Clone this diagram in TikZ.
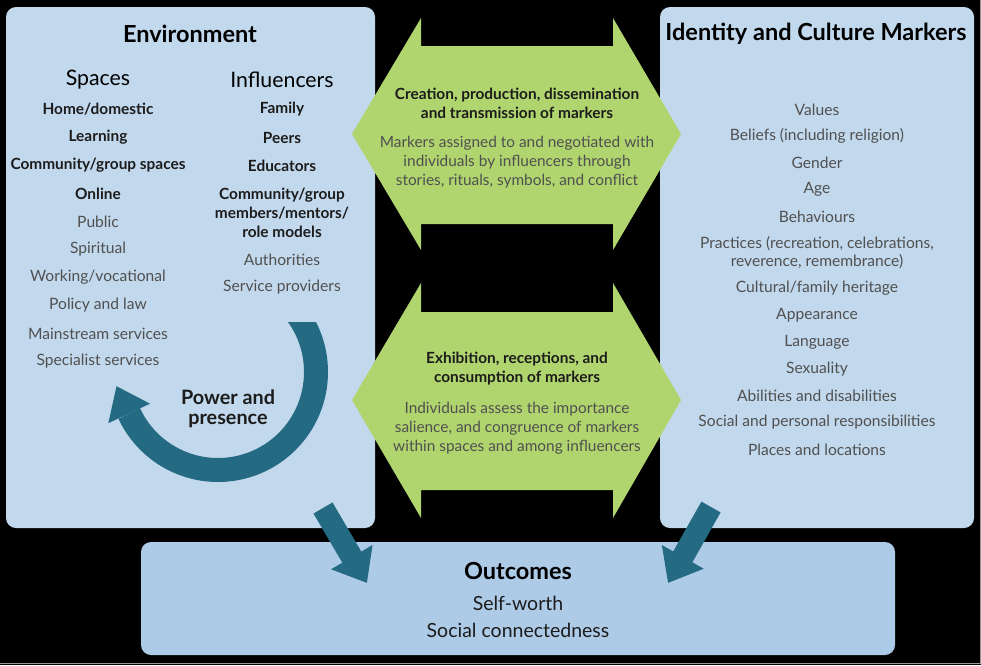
\documentclass[tikz,border=0pt]{standalone}
\usepackage{fontspec}
\setmainfont{Lato}
\usetikzlibrary{arrows.meta,calc}
\definecolor{bgblue}{HTML}{C2D8EC}
\definecolor{outblue}{HTML}{ADCAE6}
\definecolor{grn}{HTML}{B0D46E}
\definecolor{tealarr}{HTML}{236A82}
\definecolor{txtdark}{HTML}{1C1C1C}
\definecolor{txtgray}{HTML}{505050}
\tikzset{
  box/.style={rounded corners=10pt, fill=bgblue, draw=none, inner sep=0pt},
  bitem/.style={font=\fontsize{15.4}{19}\selectfont\bfseries, text=txtdark, inner sep=0pt, align=center},
  ritem/.style={font=\fontsize{15.6}{18}\selectfont, text=txtgray, inner sep=0pt, align=center},
  ttl/.style={font=\fontsize{23.5}{26}\selectfont\bfseries, text=black, inner sep=0pt},
  subttl/.style={font=\fontsize{21.3}{24}\selectfont, text=black, inner sep=0pt},
  outitem/.style={font=\fontsize{19.5}{22}\selectfont, text=txtdark, inner sep=0pt},
  pwr/.style={font=\fontsize{19.8}{19.5}\selectfont\bfseries, text=txtdark, inner sep=0pt, align=center},
  bigarrow/.style={draw=tealarr, line width=22pt, -{Triangle[width=46pt,length=30pt]}},
}
\begin{document}
\begin{tikzpicture}[x=1pt,y=-1pt]
\useasboundingbox (0,0) rectangle (981,665);
\fill[black] (0,0) rectangle (981,665);
\draw[gray!80, line width=1pt] (980.5,0) -- (980.5,663.5) -- (0,663.5);

% boxes
\node[box, minimum width=369pt, minimum height=521pt] (env) at (190.5,267.5) {};
\node[box, minimum width=314pt, minimum height=521pt] (idt) at (817,267.5) {};
\node[box, fill=outblue, minimum width=754pt, minimum height=113pt] (out) at (518,598.5) {};

% green double arrows
\fill[grn] (352,134) -- (421,18) -- (421,46) -- (613,46) -- (613,18) -- (681,134)
  -- (613,250) -- (613,224) -- (421,224) -- (421,250) -- cycle;
\fill[grn] (352,400) -- (421,283) -- (421,312) -- (613,312) -- (613,283) -- (681,400)
  -- (613,518) -- (613,490) -- (421,490) -- (421,518) -- cycle;

% Environment
\node[ttl] (envt) at (190,34) {Environment};
\node[subttl] (spc) at (98,80) {Spaces};
\node[subttl] (inf) at (282,80) {Influencers};

\node[bitem] (s1) at (98,109) {Home/domestic};
\node[bitem] (s2) at (98,137.5) {Learning};
\node[bitem] (s3) at (98,165.5) {Community/group spaces};
\node[bitem] (s4) at (98,193.5) {Online};
\node[ritem] (s5) at (98,221.5) {Public};
\node[ritem] (s6) at (98,249.5) {Spiritual};
\node[ritem] (s7) at (98,277.5) {Working/vocational};
\node[ritem] (s8) at (98,305.5) {Policy and law};
\node[ritem] (s9) at (98,333.5) {Mainstream services};
\node[ritem] (s10) at (98,361.5) {Specialist services};

\node[bitem] (i1) at (282,109) {Family};
\node[bitem] (i2) at (282,137.5) {Peers};
\node[bitem] (i3) at (282,165.5) {Educators};
\node[bitem] (i4) at (282,212.5) {Community/group\\members/mentors/\\role models};
\node[ritem] (i5) at (282,259.5) {Authorities};
\node[ritem] (i6) at (282,287.5) {Service providers};

% power and presence arrow
\coordinate (pc) at (218,372);
\begin{scope}
  \clip (0,322) rectangle (400,600);
  \draw[tealarr, line width=24pt] ($(pc)+(-42:98)$) arc[start angle=-42, end angle=155, radius=98];
\end{scope}
\fill[tealarr] ($(pc)+(155:98)+(-0.4226*30,-0.9063*30)$)
  -- ($(pc)+(155:98)+(0.9063*23,-0.4226*23)$)
  -- ($(pc)+(155:98)+(-0.9063*23,0.4226*23)$) -- cycle;
\node[pwr] (pw) at (228,409) {Power and\\presence};

% green texts
\node[bitem] (g1) at (517,103) {Creation, production, dissemination\\and transmission of markers};
\node[ritem, font=\fontsize{15.4}{19}\selectfont] (g2) at (517,162.5) {Markers assigned to and negotiated with\\individuals by influencers through\\stories, rituals, symbols, and conflict};
\node[bitem] (g3) at (517,369) {Exhibition, receptions, and\\consumption of markers};
\node[ritem, font=\fontsize{15.4}{19}\selectfont] (g4) at (517,428) {Individuals assess the importance\\salience, and congruence of markers\\within spaces and among influencers};

% Identity
\node[ttl] (idtt) at (816,34) {Identity and Culture Markers};
\node[ritem] (m1) at (817,109.5) {Values};
\node[ritem] (m2) at (817,136) {Beliefs (including religion)};
\node[ritem] (m3) at (817,162.5) {Gender};
\node[ritem] (m4) at (817,189.5) {Age};
\node[ritem] (m5) at (817,216.5) {Behaviours};
\node[ritem] (m6) at (817,252.5) {Practices (recreation, celebrations,\\reverence, remembrance)};
\node[ritem] (m7) at (817,288.5) {Cultural/family heritage};
\node[ritem] (m8) at (817,315.5) {Appearance};
\node[ritem] (m9) at (817,342) {Language};
\node[ritem] (m10) at (817,369) {Sexuality};
\node[ritem] (m11) at (817,396) {Abilities and disabilities};
\node[ritem] (m12) at (817,422.5) {Social and personal responsibilities};
\node[ritem] (m13) at (817,449.5) {Places and locations};

% outcomes
\node[ttl] (outt) at (518,570.5) {Outcomes};
\node[outitem] (o1) at (518,603.5) {Self-worth};
\node[outitem] (o2) at (518,630.5) {Social connectedness};

% arrows to outcomes
\coordinate (a1s) at (323,508);
\coordinate (a1e) at (367,583);
\coordinate (a2s) at (711,507);
\coordinate (a2e) at (668,583);
\draw[bigarrow] (a1s) -- (a1e);
\draw[bigarrow] (a2s) -- (a2e);
\end{tikzpicture}
\end{document}
